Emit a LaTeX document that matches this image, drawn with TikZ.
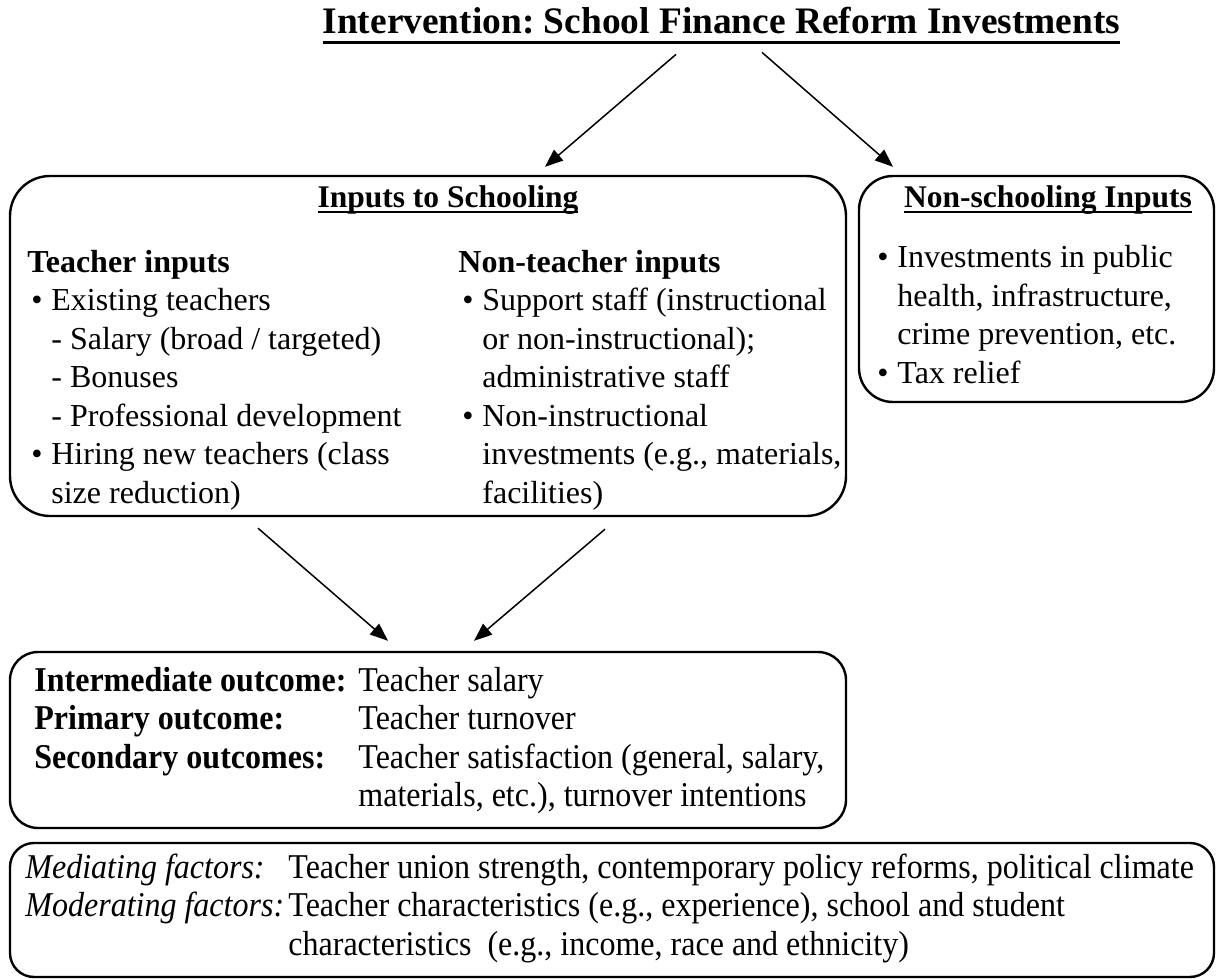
\documentclass[tikz,border=0pt]{standalone}
\usepackage{fontspec}
\setmainfont{Liberation Serif}
\newfontfamily\narrowserif[FakeStretch=0.92]{Liberation Serif}
\usetikzlibrary{arrows.meta}
\frenchspacing

% underlined heading: drop, thickness, text
\newcommand\hdrline[3]{\setbox0=\hbox{#3}\rlap{\rule[#1]{\wd0}{#2}}\box0}
\newcommand\bul{\makebox[12pt][l]{\hspace{2pt}\textbullet}}
\newcommand\ind{\hspace*{12pt}}

\begin{document}
\begin{tikzpicture}[
  x=0.5pt, y=-0.5pt,
  >={Triangle[length=9pt,width=7pt]},
  box/.style  = {draw, line width=1.2pt, rounded corners=20pt, inner sep=0pt},
  txt/.style  = {anchor=base west, inner sep=0pt, align=left,
                 font=\fontsize{16pt}{19.25pt}\selectfont},
  ntxt/.style = {txt, font=\narrowserif\fontsize{17.4pt}{19.25pt}\selectfont},
  hd/.style   = {anchor=base, inner sep=0pt,
                 font=\bfseries\fontsize{15.75pt}{19pt}\selectfont},
  arr/.style  = {->, line width=0.75pt},
]
\useasboundingbox (0,0) rectangle (1217,979);

%% boxes
\node[box, minimum width=418pt, minimum height=170pt] (inputs) at (428,346) {};
\node[box, rounded corners=17pt, minimum width=177.5pt, minimum height=113pt] (nonsch) at (1036.5,289) {};
\node[box, rounded corners=14pt, minimum width=418pt, minimum height=88pt] (outc) at (428,740) {};
\node[box, rounded corners=12pt, minimum width=602pt, minimum height=67pt] (factors) at (612,910) {};

%% title
\node[hd, font=\bfseries\fontsize{18.7pt}{22pt}\selectfont] (title) at (721.5,34)
  {\hdrline{-5.2pt}{1.5pt}{Intervention: School Finance Reform Investments}};

%% inputs to schooling (text blocks sit on their last baseline)
\node[hd] (inhd) at (448,207) {\hdrline{-3pt}{1pt}{Inputs to Schooling}};
\node[txt] (teach) at (27,503)
  {\textbf{Teacher inputs}\\
   \bul Existing teachers\\
   \ind - Salary (broad / targeted)\\
   \ind - Bonuses\\
   \ind - Professional development\\
   \bul Hiring new teachers (class\\
   \ind size reduction)};
\node[txt] (nonteach) at (458,503)
  {\textbf{Non-teacher inputs}\\
   \bul Support staff (instructional\\
   \ind or non-instructional);\\
   \ind administrative staff\\
   \bul Non-instructional\\
   \ind investments (e.g., materials,\\
   \ind facilities)};

%% non-schooling inputs
\node[hd] (nshd) at (1048,207) {\hdrline{-3pt}{1pt}{Non-schooling Inputs}};
\node[txt] (nslist) at (873,383)
  {\bul Investments in public\\
   \ind health, infrastructure,\\
   \ind crime prevention, etc.\\
   \bul Tax relief};

%% outcomes
\node[ntxt] (outlbl) at (34,768)
  {\textbf{Intermediate outcome:}\\
   \textbf{Primary outcome:}\\
   \textbf{Secondary outcomes:}};
\node[ntxt] (outval) at (358,806.5)
  {Teacher salary\\
   Teacher turnover\\
   Teacher satisfaction (general, salary,\\
   materials, etc.), turnover intentions};

%% mediating / moderating factors
\node[ntxt] (faclbl) at (25,916.5)
  {\textit{Mediating factors:}\\
   \textit{Moderating factors:}};
\node[ntxt] (facval) at (288,955)
  {Teacher union strength, contemporary policy reforms, political climate\\
   Teacher characteristics (e.g., experience), school and student\\
   characteristics\ \ (e.g., income, race and ethnicity)};

%% arrows
\draw[arr] ([xshift=-22.75pt,yshift=-4.8pt]title.south) -- ([xshift=58.5pt,yshift=4pt]inputs.north);
\draw[arr] ([xshift=20.25pt,yshift=-3.8pt]title.south) -- ([xshift=-71.75pt,yshift=4pt]nonsch.north);
\draw[arr] ([xshift=-85pt,yshift=-5.5pt]inputs.south) -- ([xshift=-20pt,yshift=5pt]outc.north);
\draw[arr] ([xshift=88.5pt,yshift=-6pt]inputs.south) -- ([xshift=23pt,yshift=5pt]outc.north);

\end{tikzpicture}
\end{document}
